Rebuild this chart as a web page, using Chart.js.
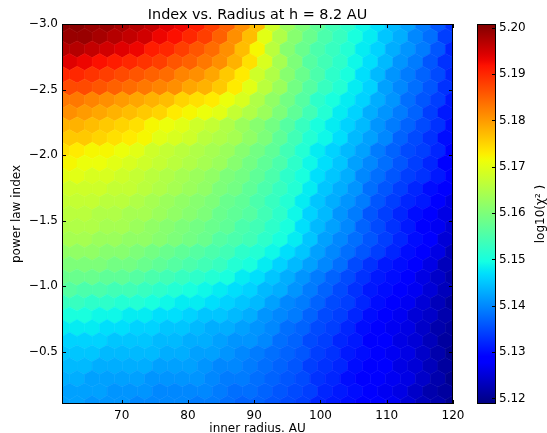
<!DOCTYPE html>
<html>
<head>
<meta charset="utf-8">
<script src="https://cdn.jsdelivr.net/npm/chart.js@4.4.0/dist/chart.umd.min.js"></script>
<style>
  html, body { margin: 0; padding: 0; background: #fff; }
  #wrap { width: 547px; height: 433px; }
</style>
</head>
<body>
<div id="wrap"><canvas id="chart" width="547" height="433"></canvas></div>
<script>
const chartTitle = 'Index vs. Radius at h = 8.2 AU';
const xLabel = 'inner radius. AU';
const yLabel = 'power law index';
const cbLabel = 'log10(\u03C7\u00B2 )';

const radiusRange = [61, 120];
const indexRange = [-3.0, -0.1];
const radiusTicks = [70, 80, 90, 100, 110, 120];
const indexTicks = [-3.0, -2.5, -2.0, -1.5, -1.0, -0.5];
const colorRange = [5.1188, 5.2008];
const colorTicks = [5.12, 5.13, 5.14, 5.15, 5.16, 5.17, 5.18, 5.19, 5.20];

// hexbin grid (gridsize 26), rows from index -3.0 down to -0.1, alternating lattices
const hexCols = 26;
const hexRows = 15;
const logChi2 = [
  [5.200,5.200,5.199,5.199,5.198,5.197,5.196,5.194,5.193,5.191,5.188,5.185,5.181,5.177,5.168,5.163,5.160,5.157,5.154,5.152,5.149,5.147,5.144,5.142,5.139,5.136,5.133],
  [5.199,5.199,5.198,5.197,5.196,5.195,5.193,5.192,5.190,5.188,5.185,5.181,5.177,5.170,5.165,5.161,5.158,5.155,5.153,5.150,5.148,5.145,5.143,5.140,5.138,5.134],
  [5.197,5.197,5.196,5.195,5.194,5.193,5.191,5.190,5.188,5.186,5.184,5.181,5.177,5.172,5.166,5.161,5.158,5.155,5.153,5.151,5.148,5.146,5.143,5.141,5.139,5.136,5.132],
  [5.194,5.193,5.192,5.191,5.190,5.189,5.188,5.186,5.185,5.183,5.181,5.178,5.174,5.169,5.164,5.160,5.156,5.154,5.152,5.149,5.147,5.144,5.141,5.139,5.136,5.133],
  [5.190,5.190,5.189,5.188,5.187,5.186,5.185,5.184,5.182,5.181,5.179,5.176,5.173,5.168,5.165,5.161,5.158,5.155,5.152,5.150,5.147,5.144,5.141,5.139,5.137,5.135,5.132],
  [5.187,5.187,5.186,5.185,5.184,5.183,5.182,5.181,5.179,5.178,5.176,5.173,5.170,5.166,5.163,5.159,5.156,5.153,5.151,5.148,5.146,5.142,5.140,5.138,5.136,5.133],
  [5.183,5.183,5.182,5.181,5.180,5.179,5.178,5.177,5.175,5.174,5.173,5.171,5.169,5.165,5.162,5.159,5.156,5.152,5.150,5.148,5.146,5.143,5.141,5.138,5.136,5.134,5.131],
  [5.181,5.180,5.179,5.178,5.177,5.176,5.175,5.173,5.172,5.171,5.170,5.167,5.165,5.163,5.160,5.157,5.154,5.151,5.148,5.146,5.143,5.141,5.139,5.137,5.134,5.131],
  [5.178,5.178,5.177,5.176,5.175,5.174,5.172,5.171,5.170,5.168,5.167,5.165,5.163,5.161,5.159,5.156,5.153,5.150,5.148,5.146,5.144,5.141,5.139,5.137,5.135,5.133,5.130],
  [5.176,5.176,5.175,5.174,5.173,5.172,5.170,5.169,5.168,5.166,5.165,5.164,5.162,5.160,5.157,5.154,5.151,5.149,5.147,5.144,5.142,5.140,5.137,5.135,5.133,5.130],
  [5.174,5.173,5.172,5.172,5.171,5.170,5.168,5.167,5.166,5.165,5.164,5.163,5.161,5.159,5.157,5.154,5.151,5.148,5.146,5.144,5.142,5.139,5.137,5.135,5.134,5.132,5.129],
  [5.172,5.171,5.171,5.170,5.169,5.168,5.167,5.166,5.165,5.164,5.163,5.161,5.159,5.157,5.155,5.152,5.149,5.147,5.145,5.142,5.140,5.138,5.136,5.134,5.132,5.129],
  [5.170,5.170,5.169,5.169,5.168,5.167,5.166,5.165,5.164,5.163,5.162,5.160,5.159,5.157,5.155,5.152,5.150,5.147,5.145,5.143,5.140,5.138,5.136,5.134,5.133,5.131,5.128],
  [5.168,5.168,5.168,5.167,5.167,5.166,5.165,5.164,5.163,5.162,5.160,5.159,5.157,5.155,5.153,5.151,5.148,5.145,5.143,5.141,5.138,5.136,5.134,5.132,5.130,5.128],
  [5.167,5.167,5.167,5.166,5.166,5.165,5.164,5.163,5.162,5.161,5.160,5.158,5.157,5.155,5.153,5.151,5.148,5.145,5.143,5.141,5.139,5.136,5.134,5.132,5.131,5.128,5.126],
  [5.166,5.166,5.165,5.165,5.164,5.164,5.163,5.162,5.161,5.160,5.158,5.157,5.156,5.154,5.152,5.149,5.146,5.144,5.141,5.139,5.136,5.134,5.132,5.130,5.128,5.126],
  [5.165,5.165,5.165,5.164,5.164,5.163,5.162,5.161,5.160,5.159,5.158,5.157,5.155,5.154,5.152,5.150,5.147,5.144,5.142,5.140,5.137,5.135,5.133,5.131,5.129,5.127,5.125],
  [5.164,5.164,5.163,5.163,5.162,5.162,5.161,5.160,5.159,5.158,5.156,5.155,5.154,5.152,5.150,5.148,5.145,5.142,5.140,5.138,5.136,5.134,5.132,5.130,5.128,5.125],
  [5.162,5.162,5.162,5.161,5.161,5.160,5.159,5.158,5.157,5.156,5.155,5.154,5.152,5.151,5.149,5.147,5.145,5.142,5.140,5.138,5.136,5.134,5.132,5.130,5.128,5.126,5.123],
  [5.160,5.160,5.160,5.159,5.159,5.158,5.157,5.156,5.155,5.154,5.153,5.151,5.150,5.148,5.146,5.144,5.142,5.140,5.138,5.135,5.133,5.131,5.130,5.128,5.126,5.123],
  [5.158,5.158,5.158,5.157,5.157,5.156,5.155,5.154,5.153,5.152,5.151,5.150,5.148,5.147,5.145,5.143,5.141,5.139,5.137,5.135,5.133,5.131,5.130,5.128,5.126,5.124,5.122],
  [5.156,5.155,5.155,5.154,5.154,5.153,5.152,5.151,5.150,5.149,5.148,5.147,5.146,5.144,5.143,5.141,5.139,5.137,5.135,5.133,5.131,5.130,5.128,5.127,5.125,5.123],
  [5.153,5.153,5.152,5.152,5.151,5.151,5.150,5.149,5.148,5.148,5.147,5.146,5.145,5.144,5.142,5.140,5.139,5.137,5.135,5.134,5.132,5.130,5.128,5.127,5.125,5.123,5.121],
  [5.150,5.150,5.149,5.149,5.148,5.148,5.147,5.147,5.146,5.145,5.145,5.144,5.143,5.141,5.140,5.139,5.137,5.135,5.134,5.132,5.130,5.129,5.127,5.125,5.124,5.122],
  [5.148,5.148,5.148,5.147,5.147,5.146,5.146,5.145,5.145,5.144,5.143,5.143,5.142,5.141,5.140,5.138,5.137,5.135,5.134,5.132,5.130,5.128,5.127,5.126,5.124,5.122,5.121],
  [5.146,5.146,5.146,5.145,5.145,5.145,5.144,5.144,5.143,5.143,5.142,5.141,5.141,5.140,5.138,5.137,5.135,5.134,5.132,5.131,5.129,5.128,5.126,5.125,5.123,5.121],
  [5.145,5.145,5.145,5.144,5.144,5.144,5.144,5.143,5.143,5.142,5.142,5.141,5.140,5.139,5.138,5.137,5.136,5.134,5.133,5.131,5.130,5.129,5.127,5.126,5.124,5.122,5.120],
  [5.144,5.144,5.143,5.143,5.143,5.143,5.142,5.142,5.142,5.141,5.140,5.140,5.139,5.138,5.137,5.136,5.134,5.133,5.132,5.130,5.129,5.128,5.126,5.125,5.123,5.121],
  [5.143,5.143,5.142,5.142,5.142,5.142,5.141,5.141,5.141,5.141,5.140,5.139,5.139,5.138,5.137,5.136,5.135,5.133,5.132,5.130,5.129,5.128,5.127,5.126,5.124,5.122,5.120],
  [5.142,5.142,5.142,5.141,5.141,5.141,5.140,5.140,5.140,5.140,5.139,5.138,5.138,5.137,5.136,5.135,5.134,5.132,5.131,5.130,5.129,5.127,5.126,5.124,5.122,5.121],
  [5.142,5.142,5.141,5.141,5.141,5.140,5.140,5.140,5.140,5.139,5.139,5.138,5.137,5.137,5.136,5.135,5.134,5.132,5.131,5.130,5.129,5.128,5.127,5.125,5.123,5.122,5.120]
];

// matplotlib "jet" colormap
function jet(t) {
  t = Math.min(1, Math.max(0, t));
  const seg = pts => {
    for (let i = 1; i < pts.length; i++) {
      if (t <= pts[i][0]) {
        const [x0, y0] = pts[i - 1], [x1, y1] = pts[i];
        return y0 + (y1 - y0) * (t - x0) / (x1 - x0);
      }
    }
    return pts[pts.length - 1][1];
  };
  const r = seg([[0, 0], [0.35, 0], [0.66, 1], [0.89, 1], [1, 0.5]]);
  const g = seg([[0, 0], [0.125, 0], [0.375, 1], [0.64, 1], [0.91, 0], [1, 0]]);
  const b = seg([[0, 0.5], [0.11, 1], [0.34, 1], [0.65, 0], [1, 0]]);
  return `rgb(${Math.round(r * 255)},${Math.round(g * 255)},${Math.round(b * 255)})`;
}
const colorOf = v => jet((v - colorRange[0]) / (colorRange[1] - colorRange[0]));

// hexagon centres
const sx = (radiusRange[1] - radiusRange[0]) / hexCols;
const sy = (indexRange[1] - indexRange[0]) / hexRows;
const cells = [];
logChi2.forEach((row, k) => {
  const shift = k % 2 ? 0.5 : 0;
  row.forEach((v, i) => {
    cells.push({ x: radiusRange[0] + (i + shift) * sx, y: indexRange[0] + k * sy / 2, v: v });
  });
});

const minus = v => (v < 0 ? '\u2212' : '') + Math.abs(v).toFixed(1);

// keep the plot box where matplotlib put it
const noPad = s => { s.paddingTop = 0; s.paddingBottom = 0; s.paddingLeft = 0; s.paddingRight = 0; };

// draws each hexagon at its point, sized from the scales
const hexbinPlugin = {
  id: 'hexbin',
  beforeDatasetsDraw(chart) {
    const { ctx, chartArea } = chart;
    const xs = chart.scales.x, ys = chart.scales.y;
    const hw = Math.abs(xs.getPixelForValue(radiusRange[0] + sx) - xs.getPixelForValue(radiusRange[0])) / 2;
    const hy = Math.abs(ys.getPixelForValue(indexRange[0] + sy) - ys.getPixelForValue(indexRange[0]));
    const meta = chart.getDatasetMeta(0);
    ctx.save();
    ctx.beginPath();
    ctx.rect(chartArea.left, chartArea.top, chartArea.width, chartArea.height);
    ctx.clip();
    meta.data.forEach((pt, i) => {
      const c = colorOf(cells[i].v);
      ctx.beginPath();
      ctx.moveTo(pt.x, pt.y - hy / 3);
      ctx.lineTo(pt.x + hw, pt.y - hy / 6);
      ctx.lineTo(pt.x + hw, pt.y + hy / 6);
      ctx.lineTo(pt.x, pt.y + hy / 3);
      ctx.lineTo(pt.x - hw, pt.y + hy / 6);
      ctx.lineTo(pt.x - hw, pt.y - hy / 6);
      ctx.closePath();
      ctx.fillStyle = c;
      ctx.strokeStyle = c;
      ctx.lineWidth = 0.6;
      ctx.fill();
      ctx.stroke();
    });
    ctx.restore();
  },
  afterDraw(chart) {
    const { ctx, chartArea: a } = chart;
    const xs = chart.scales.x, ys = chart.scales.y, cs = chart.scales.cb;
    const tl = 4;
    ctx.save();
    ctx.strokeStyle = '#000';
    ctx.lineWidth = 1;
    // frame + inward ticks
    ctx.strokeRect(a.left + 0.5, a.top + 0.5, a.width - 1, a.height - 1);
    ctx.beginPath();
    radiusTicks.forEach(v => {
      const px = Math.round(xs.getPixelForValue(v)) + 0.5;
      ctx.moveTo(px, a.bottom); ctx.lineTo(px, a.bottom - tl);
      ctx.moveTo(px, a.top); ctx.lineTo(px, a.top + tl);
    });
    indexTicks.forEach(v => {
      const py = Math.round(ys.getPixelForValue(v)) + 0.5;
      ctx.moveTo(a.left, py); ctx.lineTo(a.left + tl, py);
      ctx.moveTo(a.right, py); ctx.lineTo(a.right - tl, py);
    });
    ctx.stroke();

    // colorbar
    const cbLeft = a.right + 24, cbW = 19;
    const top = cs.getPixelForValue(colorRange[1]), bot = cs.getPixelForValue(colorRange[0]);
    const grad = ctx.createLinearGradient(0, bot, 0, top);
    for (let i = 0; i <= 64; i++) grad.addColorStop(i / 64, jet(i / 64));
    ctx.fillStyle = grad;
    ctx.fillRect(cbLeft, top, cbW, bot - top);
    ctx.strokeRect(cbLeft + 0.5, top + 0.5, cbW - 1, bot - top - 1);
    ctx.beginPath();
    colorTicks.forEach(v => {
      const py = Math.round(cs.getPixelForValue(v)) + 0.5;
      ctx.moveTo(cbLeft + cbW, py); ctx.lineTo(cbLeft + cbW - tl, py);
    });
    ctx.stroke();

    // titles
    ctx.fillStyle = '#000';
    ctx.font = '14.4px "DejaVu Sans"';
    ctx.textAlign = 'center';
    ctx.textBaseline = 'alphabetic';
    ctx.fillText(chartTitle, (a.left + a.right) / 2, 18.5);
    ctx.font = '12px "DejaVu Sans"';
    ctx.translate(544, (a.top + a.bottom) / 2);
    ctx.rotate(-Math.PI / 2);
    ctx.fillText(cbLabel, 0, 0);
    ctx.restore();
  }
};

Chart.defaults.font.family = '"DejaVu Sans"';
Chart.defaults.font.size = 12;
Chart.defaults.color = '#000';

new Chart(document.getElementById('chart'), {
  type: 'scatter',
  data: {
    datasets: [{
      label: 'log10(chi2)',
      data: cells,
      pointRadius: 0,
      pointHoverRadius: 0,
      showLine: false
    }]
  },
  options: {
    responsive: false,
    animation: false,
    devicePixelRatio: 1,
    events: [],
    layout: { padding: { top: 24, left: 0, right: 0, bottom: 0 } },
    plugins: { legend: { display: false }, title: { display: false }, tooltip: { enabled: false } },
    scales: {
      x: {
        type: 'linear',
        position: 'bottom',
        min: radiusRange[0],
        max: radiusRange[1],
        afterBuildTicks: s => { s.ticks = radiusTicks.map(v => ({ value: v })); },
        afterFit: s => { s.height = 29; noPad(s); },
        ticks: { autoSkip: false, maxRotation: 0, padding: 5, callback: v => String(v) },
        grid: { display: false, drawTicks: false },
        border: { display: false },
        title: { display: true, text: xLabel, font: { size: 12, lineHeight: 1 }, padding: { top: 0, bottom: -2 } }
      },
      y: {
        type: 'linear',
        position: 'left',
        reverse: true,
        min: indexRange[0],
        max: indexRange[1],
        afterBuildTicks: s => { s.ticks = indexTicks.map(v => ({ value: v })); },
        afterFit: s => { s.width = 62; noPad(s); },
        ticks: { autoSkip: false, padding: 4, callback: v => minus(v) },
        grid: { display: false, drawTicks: false },
        border: { display: false },
        title: { display: true, text: yLabel, font: { size: 12, lineHeight: 1.2 }, padding: { top: 10, bottom: 0 } }
      },
      cb: {
        type: 'linear',
        position: 'right',
        min: colorRange[0],
        max: colorRange[1],
        afterBuildTicks: s => { s.ticks = colorTicks.map(v => ({ value: v })); },
        afterFit: s => { s.width = 94; noPad(s); },
        ticks: { autoSkip: false, padding: 46, callback: v => v.toFixed(2) },
        grid: { display: false, drawTicks: false },
        border: { display: false }
      }
    }
  },
  plugins: [hexbinPlugin]
});
</script>
</body>
</html>
